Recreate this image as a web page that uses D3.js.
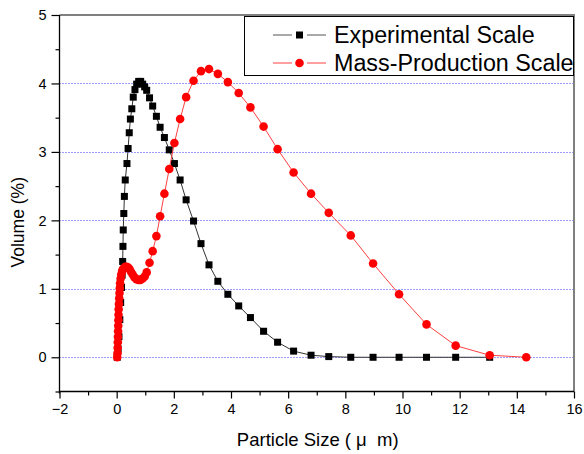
<!DOCTYPE html>
<html>
<head>
<meta charset="utf-8">
<script src="https://cdn.jsdelivr.net/npm/d3@7"></script>
<style>
  html, body { margin: 0; padding: 0; background: #fff; }
  svg { display: block; font-family: "Liberation Sans", Arial, sans-serif; }
</style>
</head>
<body>
<svg id="chart" width="584" height="454"></svg>
<script>
// Experimental Scale (black squares)
const expX = [0.02, 0.05, 0.08, 0.11, 0.14, 0.17, 0.19, 0.21, 0.22, 0.23, 0.25, 0.27, 0.30, 0.36, 0.40, 0.44, 0.48, 0.53, 0.58, 0.64, 0.70, 0.77, 0.84, 0.91, 0.98, 1.05, 1.15, 1.26, 1.39, 1.52, 1.67, 1.84, 2.02, 2.22, 2.43, 2.69, 2.95, 3.23, 3.54, 3.89, 4.27, 4.68, 5.14, 5.63, 6.19, 6.80, 7.42, 8.19, 8.97, 9.88, 10.84, 11.86, 13.05];
const expY = [0, 0.12, 0.30, 0.55, 0.80, 1.02, 1.20, 1.40, 1.62, 1.86, 2.10, 2.35, 2.59, 2.83, 3.05, 3.28, 3.48, 3.63, 3.80, 3.91, 3.99, 4.03, 4.03, 3.99, 3.95, 3.90, 3.79, 3.67, 3.52, 3.36, 3.21, 3.03, 2.83, 2.59, 2.30, 1.99, 1.66, 1.35, 1.11, 0.92, 0.75, 0.58, 0.38, 0.22, 0.09, 0.03, 0.01, 0, 0, 0, 0, 0, 0];

// Mass-Production Scale (red circles)
const massX = [0.02, 0.03, 0.035, 0.04, 0.045, 0.05, 0.055, 0.06, 0.065, 0.07, 0.08, 0.09, 0.10, 0.11, 0.12, 0.14, 0.16, 0.19, 0.22, 0.26, 0.30, 0.35, 0.40, 0.45, 0.50, 0.56, 0.62, 0.69, 0.76, 0.83, 0.91, 0.98, 1.05, 1.15, 1.26, 1.39, 1.52, 1.67, 1.84, 2.02, 2.22, 2.43, 2.69, 2.95, 3.23, 3.54, 3.89, 4.27, 4.68, 5.14, 5.63, 6.19, 6.80, 7.42, 8.19, 8.97, 9.88, 10.84, 11.86, 13.05, 14.33];
const massY = [0, 0.06, 0.14, 0.22, 0.30, 0.38, 0.46, 0.54, 0.62, 0.70, 0.78, 0.86, 0.94, 1.01, 1.08, 1.15, 1.21, 1.26, 1.29, 1.30, 1.32, 1.32, 1.31, 1.29, 1.25, 1.21, 1.17, 1.14, 1.13, 1.13, 1.15, 1.18, 1.24, 1.38, 1.55, 1.77, 2.06, 2.39, 2.75, 3.13, 3.48, 3.80, 4.04, 4.18, 4.21, 4.14, 4.02, 3.86, 3.65, 3.37, 3.04, 2.70, 2.39, 2.11, 1.78, 1.37, 0.92, 0.48, 0.17, 0.03, 0];

const xTicks = [-2, 0, 2, 4, 6, 8, 10, 12, 14, 16];
const yTicks = [0, 1, 2, 3, 4, 5];
const gridY = [0, 1, 2, 3, 4];
const seriesNames = ["Experimental Scale", "Mass-Production Scale"];

const plotL = 59.5, plotR = 574, plotT = 15, plotB = 391.5;

const svg = d3.select('#chart');
const x = d3.scaleLinear().domain([-2, 16]).range([plotL, plotR]);
const y = d3.scaleLinear().domain([-0.5, 5]).range([plotB, plotT]);

// grid lignes bleues pointillées
svg.append('g').selectAll('line')
    .data(gridY)
    .enter().append('line')
    .attr('x1', plotL).attr('x2', plotR)
    .attr('y1', d => Math.round(y(d)) + 0.5).attr('y2', d => Math.round(y(d)) + 0.5)
    .attr('stroke', '#3b3bff').attr('stroke-width', 1).attr('stroke-dasharray', '1,2');

// cadre haut / droite (gris)
svg.append('line').attr('x1', plotL).attr('x2', plotR + 1).attr('y1', plotT).attr('y2', plotT)
    .attr('stroke', '#808080').attr('stroke-width', 2);
svg.append('line').attr('x1', plotR).attr('x2', plotR).attr('y1', plotT).attr('y2', plotB)
    .attr('stroke', '#808080').attr('stroke-width', 2);

// Axes
const fontAxis = '14.5px';
const xAxis = svg.append('g').attr('transform', `translate(0,${plotB})`)
    .call(d3.axisBottom(x).tickValues(xTicks).tickSize(7).tickPadding(5).tickFormat(d3.format('d')));
svg.append('g').attr('transform', `translate(0,${plotB})`)
    .call(d3.axisBottom(x).tickValues(d3.range(-1, 16, 2)).tickSize(4).tickFormat(''))
    .select('.domain').remove();

const yAxis = svg.append('g').attr('transform', `translate(${plotL},0)`)
    .call(d3.axisLeft(y).tickValues(yTicks).tickSize(8).tickPadding(5).tickFormat(d3.format('d')));
svg.append('g').attr('transform', `translate(${plotL},0)`)
    .call(d3.axisLeft(y).tickValues([-0.5, 0.5, 1.5, 2.5, 3.5, 4.5]).tickSize(4).tickFormat(''))
    .select('.domain').remove();

xAxis.select('.domain').remove();
yAxis.select('.domain').remove();
svg.append('line').attr('x1', plotL).attr('x2', plotR).attr('y1', plotB).attr('y2', plotB)
    .attr('stroke', '#000').attr('stroke-width', 1.3);
svg.append('line').attr('x1', plotL).attr('x2', plotL).attr('y1', plotT).attr('y2', plotB + 2)
    .attr('stroke', '#000').attr('stroke-width', 1.3);

svg.selectAll('.tick text').style('font-size', fontAxis).attr('fill', '#000')
    .style('font-family', '"Liberation Sans", Arial, sans-serif');
svg.selectAll('.tick line').attr('stroke', '#000').attr('stroke-width', 1.2);

// Titres des axes
svg.append('text')
    .attr('x', (plotL + plotR) / 2 + 1).attr('y', 446)
    .attr('text-anchor', 'middle').style('font-size', '18.5px')
    .style('white-space', 'pre')
    .text('Particle Size ( \u03bc  m)');

svg.append('text')
    .attr('transform', `translate(24,${(plotT + plotB) / 2 + 19}) rotate(-90)`)
    .attr('text-anchor', 'middle').style('font-size', '17.5px')
    .text('Volume (%)');

// Séries
const expData = expX.map((v, i) => [v, expY[i]]);
const massData = massX.map((v, i) => [v, massY[i]]);
const line = d3.line().x(d => x(d[0])).y(d => y(d[1]));

svg.append('path').datum(expData)
    .attr('fill', 'none').attr('stroke', '#333').attr('stroke-width', 1).attr('d', line);
svg.append('g').selectAll('rect')
    .data(expData)
    .enter().append('rect')
    .attr('x', d => x(d[0]) - 3.5).attr('y', d => y(d[1]) - 3.5)
    .attr('width', 7).attr('height', 7).attr('fill', '#000');

svg.append('path').datum(massData)
    .attr('fill', 'none').attr('stroke', '#ff4040').attr('stroke-width', 1).attr('d', line);
svg.append('g').selectAll('circle')
    .data(massData)
    .enter().append('circle')
    .attr('cx', d => x(d[0])).attr('cy', d => y(d[1]))
    .attr('r', 4.3).attr('fill', '#ff0000');

// Légende
const lg = svg.append('g');
lg.append('rect').attr('x', 244.5).attr('y', 16.5).attr('width', 329).attr('height', 59)
    .attr('fill', '#fff').attr('stroke', '#000').attr('stroke-width', 1);
const rows = [
    {name: seriesNames[0], y: 35, color: '#555', marker: 'square'},
    {name: seriesNames[1], y: 63, color: '#ff4040', marker: 'circle'}
];
rows.forEach(r => {
    lg.append('line').attr('x1', 273).attr('x2', 292).attr('y1', r.y).attr('y2', r.y)
        .attr('stroke', r.color).attr('stroke-width', 1);
    lg.append('line').attr('x1', 307).attr('x2', 326).attr('y1', r.y).attr('y2', r.y)
        .attr('stroke', r.color).attr('stroke-width', 1);
    if (r.marker === 'square') {
        lg.append('rect').attr('x', 296).attr('y', r.y - 3.5).attr('width', 7).attr('height', 7).attr('fill', '#000');
    } else {
        lg.append('circle').attr('cx', 299.5).attr('cy', r.y).attr('r', 4.3).attr('fill', '#ff0000');
    }
    lg.append('text').attr('x', 334).attr('y', r.y + 8)
        .style('font-size', '23.3px').attr('fill', '#000').text(r.name);
});
</script>
</body>
</html>
